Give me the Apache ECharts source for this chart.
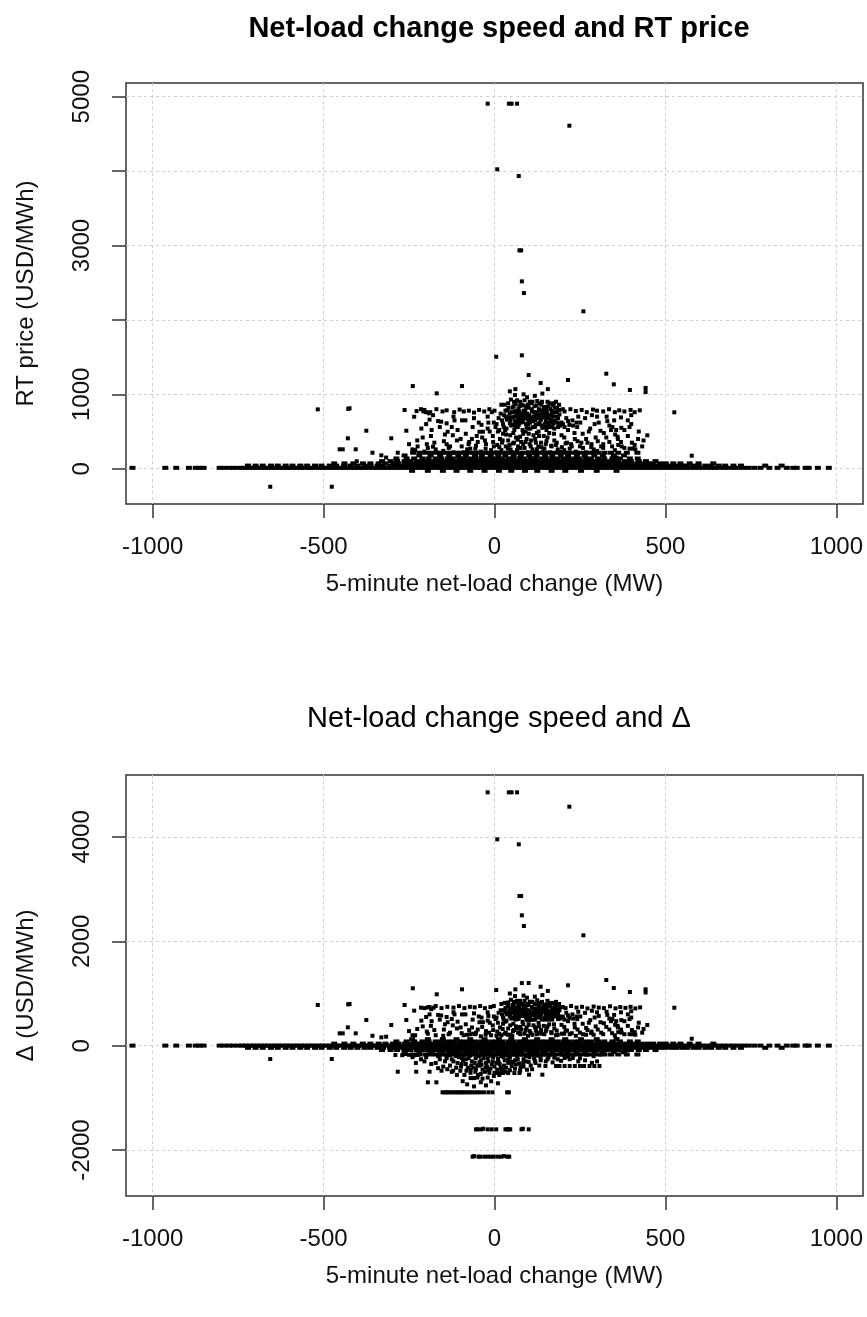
<!DOCTYPE html>
<html>
<head>
<meta charset="utf-8">
<script src="https://cdn.jsdelivr.net/npm/echarts/dist/echarts.min.js"></script>
<style>
  html, body { margin: 0; padding: 0; background: #fff; }
  #chart { width: 867px; height: 1317px; }
</style>
</head>
<body>
<div id="chart"></div>
<script>
// x positions of the dense near-zero band, one row per price/delta level
const bandX0 = [-1059,-963,-931,-894,-874,-863,-851,-804,-792,-777,-765,-750,-738,-728,-716,-705,-695,-683,-672,-663,-651,-640,-631,-619,-608,-599,-587,-577,-566,-556,-544,-535,-524,-512,-503,-493,-481,-472,-461,-450,-441,-430,-419,-409,-399,-388,-378,-367,-357,-346,-336,-325,-314,-304,-293,-283,-272,-262,-251,-241,-230,-220,-209,-199,-188,-178,-167,-157,-146,-136,-125,-115,-104,-94,-83,-73,-62,-52,-41,-31,-20,-10,1,11,22,32,43,53,64,74,85,95,106,116,127,137,148,158,169,179,190,200,211,221,232,242,253,263,274,284,295,305,316,326,337,347,358,368,379,389,400,410,421,431,442,452,463,473,484,494,505,516,527,538,549,561,572,584,596,608,620,633,645,658,671,685,699,713,728,743,760,778,804,828,855,874,884,910,919,946,978];
const bandX1 = [-721,-699,-678,-654,-634,-611,-591,-568,-548,-525,-506,-482,-463,-440,-421,-401,-380,-363,-342,-326,-305,-291,-274,-261,-244,-231,-215,-204,-189,-178,-163,-152,-137,-126,-111,-100,-85,-74,-59,-48,-33,-22,-7,6,19,30,45,56,71,82,97,108,123,134,149,160,175,186,201,212,227,238,253,264,279,290,305,316,331,342,357,368,383,394,409,420,435,446,461,473,489,501,518,531,549,563,582,597,617,634,656,675,699,721,792,840];
const bandX2 = [-469,-439,-413,-385,-363,-339,-319,-297,-281,-262,-248,-231,-219,-203,-192,-177,-166,-151,-140,-125,-114,-99,-89,-75,-65,-51,-41,-27,-17,-3,7,21,31,45,55,69,79,93,103,117,127,141,151,165,175,189,199,213,223,237,247,261,271,285,295,309,320,335,346,361,373,389,401,418,431,449,464,484,501,523,544,571,597,640];
const bandX3 = [-329,-304,-285,-263,-247,-228,-214,-197,-184,-168,-156,-140,-129,-114,-103,-88,-77,-62,-51,-36,-25,-10,3,14,29,40,55,66,81,92,107,118,133,144,159,170,185,196,211,222,237,248,263,274,289,300,316,329,347,362,382,399,422,443,471];
const bandX4 = [-287,-257,-235,-211,-193,-172,-156,-137,-122,-103,-89,-71,-57,-39,-25,-7,9,23,41,55,73,87,105,119,137,151,169,183,201,215,233,247,266,282,303,321,345,367,396,419];
const bandX5 = [-263,-220,-187,-159,-132,-106,-84,-57,-37,-11,11,32,56,77,102,123,148,169,194,215,241,264,292,317,349,379];
const bandX6 = [-241,-195,-151,-111,-71,-29,13,49,89,125,167,207,253,299,357];
const bandX7 = [-238,-219,-201,-186,-170,-155,-141,-127,-113,-99,-86,-72,-58,-45,-31,-18,-4,10,23,37,50,64,78,91,105,118,132,146,159,173,186,200,214,227,241,256,271,287,304,322,341,362,387,418];
const priceRowY = [12, 42, 72, 102, 138, 178, -28, 215];
const deltaRowY = [2, -40, 40, -82, 82, -125, 125, -168];

// price spikes (same intervals in both panels)
const spikeX = [-20, 42, 50, 66, 219, 8, 71, 73, 78, 80, 86, 260];
const spikePrice = [4906, 4906, 4906, 4906, 4610, 4024, 3934, 2935, 2935, 2518, 2361, 2115];
const spikeDelta = [4854, 4854, 4854, 4854, 4579, 3954, 3858, 2868, 2868, 2498, 2293, 2115];

const priceScatter = [
  [5,1505],[80,1524],[100,1259],[135,1152],[215,1192],[327,1277],[349,1134],[396,1058],[442,1085],[442,1030],[526,758],[447,449],[577,175],[-95,1111],[-169,1013],[-239,1111],[-517,798],[-424,812],[-428,805],[-656,-242],[-476,-242],[61,1070],[156,1070],
  [-263,789],[-235,699],[-215,800],[-208,770],[-200,760],[-192,745],[-180,720],[-375,511],[-429,409],[-302,409],[-258,511],[-453,261],[-444,261],[-406,261],[-180,296],[-283,215],[-317,150],[-403,100],[-357,215],[-331,180],
  [-228,775],[-205,790],[-188,760],[-170,800],[-152,770],[-140,785],[-118,760],[-102,795],[-90,770],[-75,780],[-60,755],[-45,790],[-30,770],[-15,800],[0,780],[-8,760],[190,790],[205,770],[222,800],[238,775],[255,790],[270,760],[288,795],[300,780],[318,770],[335,800],[352,760],[365,785],[380,770],[398,790],[410,760],[425,785],
  [22,650],[28,720],[30,860],[35,540],[38,790],[42,690],[45,610],[48,930],[50,760],[53,820],[55,480],[58,700],[60,640],[62,870],[65,750],[68,560],[70,810],[72,680],[75,900],[77,620],[80,740],[82,520],[85,850],[87,700],[90,780],[92,600],[95,960],[97,660],[100,820],[102,720],[105,540],[107,880],[110,770],[112,640],[115,700],[117,840],[120,590],[122,760],[125,910],[127,680],[130,800],[132,620],[135,730],[137,860],[140,550],[142,780],[145,690],[148,830],[150,640],[153,750],[155,900],[158,700],[160,580],[163,800],[165,660],[168,740],[170,850],[173,610],[176,760],[180,700],[183,820],[186,560],[190,730],[60,990],[85,1000],[118,980],[45,1040],[140,1010],[100,470],[130,440],[75,430],[160,480],
  [70,720],[95,700],[110,680],[88,740],[120,720],[102,650],[78,680],[135,690],[64,780],[150,720],
  [-250,330],[-232,250],[-210,420],[-200,600],[-195,280],[-184,520],[-176,350],[-165,640],[-156,632],[-150,240],[-145,460],[-137,497],[-130,300],[-125,560],[-117,650],[-110,380],[-99,400],[-95,650],[-85,650],[-80,260],[-71,270],[-66,400],[-56,270],[-49,360],[-44,497],[-38,590],[-34,497],[-25,330],[-18,620],[-10,250],[-5,440],[3,560],[8,320],[12,680],[16,400],[20,250],[25,470],[33,300],[40,380],[47,260],[57,350],[63,420],[69,300],[78,360],[88,280],[94,400],[103,330],[111,260],[119,400],[128,300],[136,350],[146,270],[155,420],[166,310],[175,380],[185,260],[196,450],[200,600],[208,340],[215,520],[220,270],[228,650],[235,400],[242,560],[250,300],[258,470],[265,680],[272,350],[280,540],[290,260],[296,420],[305,620],[312,300],[320,480],[328,700],[336,360],[345,560],[352,250],[360,430],[372,300],[380,520],[390,650],[402,350],[412,260],[420,400],[432,300],[395,560],[370,690],[330,640],[285,720],[245,700],[210,680],[341,520],[356,520],[361,400],[370,360],[395,270],[405,270],[357,150],[283,290]
];

const priceBlobExtra = [
  [25,600],[32,780],[36,660],[40,880],[44,740],[49,580],[52,690],[56,840],[59,760],[63,600],[66,920],[69,640],[73,770],[76,710],[79,860],[83,630],[86,780],[89,680],[93,830],[96,740],[99,600],[103,900],[106,690],[109,800],[113,560],[116,760],[119,650],[123,850],[126,720],[129,600],[133,780],[136,660],[139,900],[143,740],[147,600],[151,800],[154,680],[157,840],[161,720],[164,620],[167,780],[171,700],[174,880],[178,640],[182,760],[186,680],
  [34,460],[58,520],[91,500],[124,480],[152,520],[175,540],[-20,540],[-2,620],[10,500],[18,740],[196,620],[205,560],[215,640],[230,580],
  [-90,220],[-76,330],[-62,210],[-52,440],[-40,230],[-28,380],[-16,210],[-2,300],[6,220],[14,520],[22,350],[30,210],[44,320],[52,220],[66,250],[74,210],[84,330],[98,220],[107,380],[115,220],[124,260],[141,230],[150,330],[162,220],[180,320],[192,230],[204,250],[224,330],[238,230],[254,350],[268,220],[300,240],[318,330],[-120,220],[-140,330],[-160,210],[-205,230],[-225,300],
  [27,560],[33,700],[41,820],[47,650],[54,590],[57,900],[64,700],[71,590],[74,840],[81,660],[88,920],[94,560],[98,860],[104,620],[111,900],[118,560],[124,680],[131,880],[138,580],[144,820],[149,560],[156,620],[162,880],[169,560],[177,820],[184,620],[189,860],[193,580]
];

const priceMidMore = [
  [-240,260],[-226,380],[-214,540],[-198,330],[-186,440],[-172,260],[-160,560],[-148,370],[-134,280],[-122,450],[-108,520],[-96,300],[-84,470],[-74,360],[-64,560],[-54,310],[-46,620],[-36,420],[-26,270],[-14,500],[-4,360],[6,600],[14,290],[24,380],[31,520],[39,270],[46,450],[54,340],[61,560],[68,390],[76,280],[84,470],[91,360],[99,540],[106,300],[114,450],[121,350],[129,500],[137,290],[144,440],[152,370],[159,560],[167,300],[174,470],[182,350],[189,600],[197,290],[204,420],[212,350],[219,590],[226,300],[234,480],[243,370],[251,620],[259,280],[268,400],[276,500],[284,330],[293,600],[302,370],[310,510],[318,280],[327,420],[336,580],[344,300],[353,460],[362,320],[371,550],[380,280],[390,440],[400,600],[410,320],[422,500],[436,380],
  [-190,660],[-140,610],[-60,680],[130,720],[170,640],[240,620],[300,700],[350,650],[400,720],[-120,700],[-20,700],[20,860],[180,900],[200,800]
];

const deltaScatter = [
  [5,1067],[61,1080],[80,1200],[100,1201],[135,1130],[215,1157],[327,1259],[349,1105],[396,1029],[442,1080],[442,1020],[526,728],[447,397],[577,134],[-95,1080],[-169,985],[-239,1100],[-517,780],[-424,799],[-428,792],[-656,-255],[-476,-255],[156,1050],
  [-263,780],[-235,671],[-215,730],[-205,720],[-195,735],[-185,700],[-178,728],[-375,492],[-429,352],[-302,397],[-258,492],[-453,237],[-444,237],[-406,237],[-317,172],[-357,190],[-331,160],
  [-190,740],[-172,760],[-155,720],[-138,745],[-120,730],[-104,760],[-88,720],[-72,745],[-58,735],[-42,760],[-28,720],[-12,740],[-2,760],[192,740],[208,720],[224,760],[240,730],[256,745],[272,715],[290,750],[305,730],[320,720],[338,755],[354,715],[368,740],[383,725],[398,745],[412,715],[426,735],
  [22,600],[28,680],[30,820],[35,480],[38,750],[42,640],[45,560],[48,880],[50,710],[53,780],[55,420],[58,650],[60,590],[62,830],[65,700],[68,510],[70,770],[72,630],[75,860],[77,570],[80,690],[82,460],[85,800],[87,650],[90,740],[92,550],[95,920],[97,610],[100,780],[102,670],[105,490],[107,840],[110,720],[112,590],[115,650],[117,800],[120,540],[122,710],[125,870],[127,630],[130,750],[132,570],[135,680],[137,820],[140,500],[142,730],[145,640],[148,790],[150,590],[153,700],[155,860],[158,650],[160,530],[163,760],[165,610],[168,690],[170,810],[173,560],[176,710],[180,650],[183,780],[186,510],[190,680],[60,950],[85,960],[118,940],[45,1000],[140,970],[100,400],[130,370],[75,360],[160,410],[70,670],[95,650],[110,630],[88,690],[120,670],[102,600],[78,630],[135,640],[64,730],[150,670],
  [-250,280],[-232,200],[-210,370],[-200,550],[-195,230],[-184,470],[-176,300],[-165,590],[-156,580],[-150,190],[-145,410],[-137,450],[-130,250],[-125,510],[-117,600],[-110,330],[-99,350],[-95,600],[-85,600],[-80,210],[-71,220],[-66,350],[-56,220],[-49,310],[-44,450],[-38,540],[-34,450],[-25,280],[-18,570],[-10,200],[-5,390],[3,510],[8,270],[12,630],[16,350],[20,200],[25,420],[33,250],[40,330],[47,210],[57,300],[63,370],[69,250],[78,310],[88,230],[94,350],[103,280],[111,210],[119,350],[128,250],[136,300],[146,220],[155,370],[166,260],[175,330],[185,210],[196,400],[200,550],[208,290],[215,470],[220,220],[228,600],[235,350],[242,510],[250,250],[258,420],[265,630],[272,300],[280,490],[290,210],[296,370],[305,570],[312,250],[320,430],[328,650],[336,310],[345,510],[352,200],[360,380],[372,250],[380,470],[390,600],[402,300],[412,210],[420,350],[432,250],[395,510],[370,640],[330,590],[285,670],[245,650],[210,630],[341,470],[356,470],[361,350],[370,310],[395,220],[405,220],[357,130],[283,240]
];

const deltaBlobExtra = [
  [25,540],[32,720],[36,600],[40,830],[44,680],[49,520],[52,630],[56,790],[59,700],[63,540],[66,860],[69,580],[73,710],[76,650],[79,800],[83,570],[86,720],[89,620],[93,770],[96,680],[99,540],[103,840],[106,630],[109,740],[113,500],[116,700],[119,590],[123,790],[126,660],[129,540],[133,720],[136,600],[139,840],[143,680],[147,540],[151,740],[154,620],[157,780],[161,660],[164,560],[167,720],[171,640],[174,820],[178,580],[182,700],[186,620],
  [-20,480],[-2,560],[10,440],[18,680],[196,560],[205,500],[215,580],[230,520],
  [-90,200],[-62,230],[-40,180],[-16,250],[6,190],[30,230],[52,190],[74,240],[98,190],[124,220],[150,280],[180,200],[204,230],[238,190],[268,210],
  [27,500],[33,640],[41,760],[47,590],[54,530],[57,840],[64,640],[71,530],[74,780],[81,600],[88,860],[94,500],[98,800],[104,560],[111,840],[118,500],[124,620],[131,820],[138,520],[144,760],[149,500],[156,560],[162,820],[169,500],[177,760],[184,560],[189,800],[193,520]
];

const deltaMidMore = [
  [-240,200],[-226,320],[-214,480],[-198,270],[-186,380],[-172,200],[-160,500],[-148,310],[-134,220],[-122,390],[-108,460],[-96,240],[-84,410],[-74,300],[-64,500],[-54,250],[-46,560],[-36,360],[-26,210],[-14,440],[-4,300],[6,540],[14,230],[24,320],[31,460],[39,210],[46,390],[54,280],[61,500],[68,330],[76,220],[84,410],[91,300],[99,480],[106,240],[114,390],[121,290],[129,440],[137,230],[144,380],[152,310],[159,500],[167,240],[174,410],[182,290],[189,540],[197,230],[204,360],[212,290],[219,530],[226,240],[234,420],[243,310],[251,560],[259,220],[268,340],[276,440],[284,270],[293,540],[302,310],[310,450],[318,220],[327,360],[336,520],[344,240],[353,400],[362,260],[371,490],[380,220],[390,380],[400,540],[410,260],[422,440],[436,320],
  [-190,600],[-140,550],[-60,620],[130,660],[170,580],[240,560],[300,640],[350,590],[400,660],[-120,640],[-20,640],[20,800],[180,840],[200,740]
];

const deltaNegative = [
  [-152,-893],[-146,-893],[-139,-893],[-133,-893],[-126,-893],[-120,-893],[-113,-893],[-107,-893],[-100,-893],[-94,-893],[-87,-893],[-80,-893],[-73,-893],[-66,-893],[-58,-893],[-50,-893],[-42,-893],[-31,-893],[-18,-893],[-6,-893],[37,-893],[42,-893],
  [-54,-1602],[-49,-1602],[-39,-1602],[-33,-1590],[-20,-1602],[-8,-1602],[5,-1602],[32,-1602],[37,-1602],[42,-1602],[46,-1602],[79,-1602],[83,-1590],[100,-1602],
  [-64,-2126],[-60,-2115],[-47,-2126],[-42,-2126],[-30,-2126],[-20,-2126],[-10,-2126],[-2,-2126],[10,-2126],[20,-2126],[28,-2115],[38,-2126],[43,-2126],
  [-283,-498],[-229,-498],[-190,-498],[-195,-701],[-170,-701],[-93,-680],[-155,-479],[-121,-479],[-290,-178],[-270,-182],[-250,-175],[-236,-185],[-225,-178],
  [180,-389],[190,-389],[205,-389],[220,-389],[235,-389],[250,-389],[262,-389],[278,-389],[292,-389],[307,-389],[149,-389],[131,-380],[205,-236],[229,-236],[101,-555],[140,-555],
  [5,-523],[15,-523],[25,-523],[40,-523],[58,-523],[73,-523],
  [-70,-620],[-60,-620],[-50,-610],[-35,-630],[-20,-610],
  [-180,-160],[-165,-200],[-150,-150],[-140,-240],[-130,-180],[-120,-300],[-110,-160],[-104,-220],[-96,-350],[-90,-180],[-84,-260],[-78,-420],[-72,-190],[-66,-300],[-60,-160],[-55,-240],[-50,-380],[-45,-200],[-40,-280],[-35,-460],[-30,-170],[-25,-330],[-20,-240],[-15,-520],[-10,-190],[-5,-300],[0,-400],[5,-170],[10,-250],[15,-350],[20,-200],[25,-450],[30,-280],[35,-180],[40,-330],[45,-230],[50,-390],[55,-170],[60,-280],[66,-210],[72,-340],[78,-170],[85,-260],[92,-200],[100,-310],[108,-170],[116,-240],[125,-190],[135,-280],[146,-170],[158,-220],[170,-170],[185,-260],[200,-170],[215,-210],[232,-170],[250,-240],[270,-170],[290,-200],[310,-170],
  [-88,-560],[-82,-480],[-70,-520],[-62,-420],[-48,-560],[-42,-380],[-28,-500],[-22,-400],[-12,-440],[-2,-580],[8,-460],[18,-420],[28,-380],[-112,-420],[-100,-480],[-130,-380],[-145,-300],[-160,-260],[-172,-330],[-200,-220],[-215,-260],[-240,-220],[-260,-160],[60,-440],[45,-470],[85,-400],[120,-330],[150,-300],[170,-320],[110,-450],[75,-480],[95,-460]
];

const deltaNegExtra = [
  [-135,-120],[-118,-140],[-102,-120],[-86,-150],[-70,-110],[-54,-130],[-38,-150],[-22,-120],[-8,-140],[8,-120],[22,-150],[38,-120],[52,-140],[68,-110],[82,-140],[98,-120],[112,-150],[128,-120],[142,-140],
  [-125,-260],[-108,-330],[-92,-280],[-76,-240],[-58,-330],[-44,-320],[-32,-240],[-18,-300],[-4,-220],[12,-310],[26,-220],[40,-260],[54,-320],[68,-260],[84,-330],[102,-220],[118,-290],
  [-98,-400],[-84,-350],[-68,-380],[-54,-450],[-38,-360],[-26,-420],[-8,-360],[6,-330],[20,-480],[34,-420],[48,-310],[62,-360],[76,-410],[90,-300],[106,-380],
  [-70,-460],[-56,-500],[-40,-540],[-18,-470],[0,-520],[14,-560],[32,-500],[-110,-560],[-125,-500],[-138,-450],[-150,-400],[-165,-430],[-185,-350],[-205,-300],[-230,-330],
  [-95,-240],[-112,-200],[-140,-200],[-160,-180],[135,-230],[155,-260],[175,-230],[195,-290],[220,-260],[245,-300],[265,-280],[285,-330],[300,-300],
  [-40,-700],[-25,-760],[-10,-680],[10,-720],[-60,-780],[-80,-740]
];

const xTicks = [-1000, -500, 0, 500, 1000];
const priceTicks = [0, 1000, 2000, 3000, 4000, 5000];
const priceLabels = [0, 1000, 3000, 5000];
const deltaTicks = [-2000, 0, 2000, 4000];

const bandRows = [bandX0, bandX1, bandX2, bandX3, bandX4, bandX5, bandX6, bandX7];

function bandPoints(rowY) {
  const out = [];
  bandRows.forEach((xs, i) => xs.forEach((x) => out.push([x, rowY[i]])));
  return out;
}

const priceBand = bandPoints(priceRowY);
const deltaBand = bandPoints(deltaRowY);
const priceData = spikeX.map((x, i) => [x, spikePrice[i]])
  .concat(priceScatter, priceBlobExtra, priceMidMore);
const deltaData = spikeX.map((x, i) => [x, spikeDelta[i]])
  .concat(deltaScatter, deltaBlobExtra, deltaMidMore, deltaNegative, deltaNegExtra);

const FONT = "'Liberation Sans', Arial, sans-serif";
const INK = "#111";
const FRAME = "#333";
const plain = (v) => String(v);

function xAxis(gridIndex) {
  return {
    gridIndex,
    type: "value",
    min: -1078,
    max: 1078,
    splitNumber: 5,
    name: "5-minute net-load change (MW)",
    nameLocation: "middle",
    nameGap: 68,
    nameTextStyle: { fontFamily: FONT, fontSize: 24, color: INK },
    axisLine: { show: false, onZero: false },
    axisTick: { show: true, length: 14, customValues: xTicks, lineStyle: { color: FRAME, width: 1.5 } },
    axisLabel: { customValues: xTicks, formatter: plain, margin: 31, fontFamily: FONT, fontSize: 24, color: INK },
    splitLine: { show: true, lineStyle: { color: "#d0d0d0", width: 1, type: [3, 3] } },
  };
}

function yAxis(gridIndex, min, max, name, ticks, labels) {
  return {
    gridIndex,
    type: "value",
    min,
    max,
    splitNumber: 5,
    name,
    nameLocation: "middle",
    nameGap: 88,
    nameTextStyle: { fontFamily: FONT, fontSize: 24, color: INK },
    axisLine: { show: false, onZero: false },
    axisTick: { show: true, length: 14, customValues: ticks, lineStyle: { color: FRAME, width: 1.5 } },
    axisLabel: { customValues: labels, formatter: plain, rotate: 90, margin: 32, fontFamily: FONT, fontSize: 24, color: INK },
    splitLine: { show: true, lineStyle: { color: "#d0d0d0", width: 1, type: [3, 3] } },
  };
}

function dots(gridIndex, data, size) {
  return {
    type: "scatter",
    xAxisIndex: gridIndex,
    yAxisIndex: gridIndex,
    data,
    symbol: "rect",
    symbolSize: size,
    itemStyle: { color: "#000", opacity: 1 },
    silent: true,
  };
}

const chart = echarts.init(document.getElementById("chart"), null, { renderer: "canvas" });
chart.setOption({
  animation: false,
  backgroundColor: "#fff",
  title: [
    {
      text: "Net-load change speed and RT price",
      left: 494,
      top: 9,
      textAlign: "center",
      textStyle: { fontFamily: FONT, fontSize: 29, fontWeight: "bold", color: "#000" },
    },
    {
      text: "Net-load change speed and \u0394",
      left: 494,
      top: 699,
      textAlign: "center",
      textStyle: { fontFamily: FONT, fontSize: 29, fontWeight: "normal", color: "#000" },
    },
  ],
  grid: [
    { left: 126, top: 83, width: 737, height: 421, show: true, borderColor: FRAME, borderWidth: 1.5, backgroundColor: "transparent" },
    { left: 126, top: 775, width: 737, height: 421, show: true, borderColor: FRAME, borderWidth: 1.5, backgroundColor: "transparent" },
  ],
  xAxis: [xAxis(0), xAxis(1)],
  yAxis: [
    yAxis(0, -474, 5184, "RT price (USD/MWh)", priceTicks, priceLabels),
    yAxis(1, -2879, 5186, "\u0394 (USD/MWh)", deltaTicks, deltaTicks),
  ],
  series: [
    dots(0, priceBand, [6, 4]),
    dots(0, priceData, 4),
    dots(1, deltaBand, [6, 4]),
    dots(1, deltaData, 4),
  ],
});
</script>
</body>
</html>
